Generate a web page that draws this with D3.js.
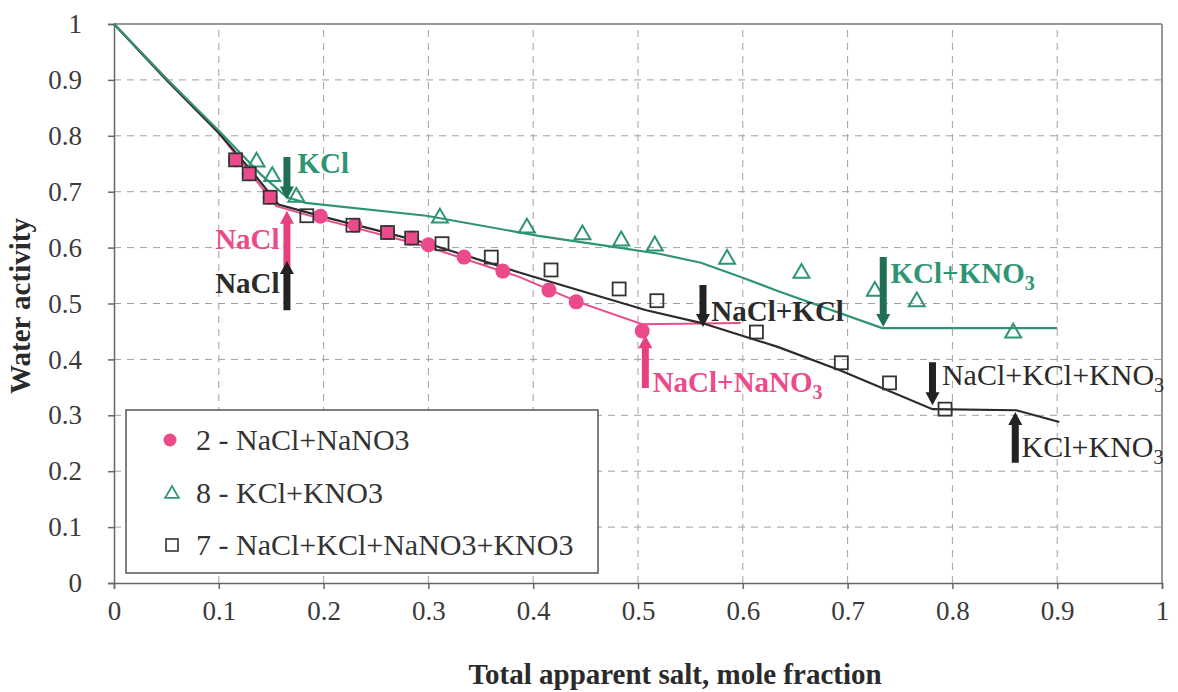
<!DOCTYPE html>
<html>
<head>
<meta charset="utf-8">
<script src="https://d3js.org/d3.v7.min.js"></script>
<style>
  body { margin: 0; background: #fff; }
  svg { display: block; }
</style>
</head>
<body>
<script>
// data
var naclNano3Pts = [[0.116,0.757],[0.129,0.732],[0.149,0.690],[0.197,0.656],[0.230,0.640],[0.261,0.627],[0.284,0.617],[0.300,0.605],[0.334,0.583],[0.371,0.558],[0.415,0.524],[0.441,0.503],[0.504,0.451]];
var kclKno3Pts = [[0.136,0.755],[0.151,0.729],[0.174,0.692],[0.311,0.655],[0.394,0.637],[0.447,0.625],[0.484,0.614],[0.516,0.605],[0.585,0.581],[0.656,0.556],[0.726,0.524],[0.766,0.505],[0.858,0.449]];
var mixPts = [[0.116,0.757],[0.129,0.732],[0.149,0.690],[0.184,0.657],[0.228,0.640],[0.261,0.627],[0.284,0.617],[0.313,0.607],[0.360,0.583],[0.417,0.560],[0.482,0.526],[0.518,0.505],[0.613,0.449],[0.694,0.394],[0.740,0.358],[0.793,0.311]];

var naclNano3Model = [[0,1],[0.1,0.805],[0.155,0.674],[0.2,0.65],[0.3,0.601],[0.386,0.548],[0.444,0.502],[0.504,0.463],[0.598,0.465]];
var kclKno3Model = [[0,1],[0.05,0.902],[0.1,0.809],[0.14,0.731],[0.165,0.69],[0.183,0.68],[0.298,0.657],[0.405,0.621],[0.47,0.603],[0.52,0.589],[0.56,0.573],[0.6,0.546],[0.634,0.522],[0.733,0.456],[0.9,0.456]];
var mixModel = [[0,1],[0.05,0.9],[0.1,0.805],[0.13,0.74],[0.157,0.677],[0.2,0.655],[0.253,0.63],[0.3,0.607],[0.386,0.556],[0.45,0.52],[0.508,0.488],[0.561,0.465],[0.634,0.422],[0.692,0.381],[0.781,0.311],[0.861,0.309],[0.902,0.288]];

var xTicks = [0,0.1,0.2,0.3,0.4,0.5,0.6,0.7,0.8,0.9,1];
var yTicks = [0,0.1,0.2,0.3,0.4,0.5,0.6,0.7,0.8,0.9,1];

var legendLabels = ["2 - NaCl+NaNO3","8 - KCl+KNO3","7 - NaCl+KCl+NaNO3+KNO3"];

// arrows: x, from y, to y, colour key
var arrows = [
  {x:0.165, y0:0.762, y1:0.686, c:"green"},
  {x:0.165, y0:0.556, y1:0.666, c:"pink"},
  {x:0.165, y0:0.488, y1:0.576, c:"black"},
  {x:0.562, y0:0.533, y1:0.458, c:"black"},
  {x:0.507, y0:0.349, y1:0.443, c:"pink"},
  {x:0.734, y0:0.583, y1:0.458, c:"green"},
  {x:0.781, y0:0.395, y1:0.318, c:"black"},
  {x:0.860, y0:0.215, y1:0.306, c:"black"}
];
var labels = [
  {t:"KCl", sub:"", x:0.175, y:0.733, c:"green", anchor:"start", w:"bold"},
  {t:"NaCl", sub:"", x:0.158, y:0.598, c:"pink", anchor:"end", w:"bold"},
  {t:"NaCl", sub:"", x:0.158, y:0.518, c:"black", anchor:"end", w:"bold"},
  {t:"NaCl+KCl", sub:"", x:0.570, y:0.468, c:"black", anchor:"start", w:"bold"},
  {t:"NaCl+NaNO", sub:"3", x:0.514, y:0.342, c:"pink", anchor:"start", w:"bold"},
  {t:"KCl+KNO", sub:"3", x:0.741, y:0.537, c:"green", anchor:"start", w:"bold"},
  {t:"NaCl+KCl+KNO", sub:"3", x:0.790, y:0.354, c:"black", anchor:"start", w:"normal"},
  {t:"KCl+KNO", sub:"3", x:0.866, y:0.225, c:"black", anchor:"start", w:"normal"}
];

var colors = {pink:"#ec4b8b", green:"#2f9474", black:"#2b2b2b"};
var arrowColors = {pink:"#e8407f", green:"#1f6f55", black:"#222"};
var serif = "'Liberation Serif'";

var W = 1178, H = 692;
var svg = d3.select("body").append("svg").attr("width", W).attr("height", H);

var x = d3.scaleLinear().domain([0,1]).range([114,1162]);
var y = d3.scaleLinear().domain([0,1]).range([583,24]);

//GRID
svg.append("g").selectAll("line.vg").data(xTicks.slice(1,10)).enter().append("line")
  .attr("x1", d => x(d)).attr("x2", d => x(d)).attr("y1", y(0)).attr("y2", y(1))
  .attr("stroke","#a0a0a0").attr("stroke-width",1).attr("stroke-dasharray","7,6");
svg.append("g").selectAll("line.hg").data(yTicks.slice(1,10)).enter().append("line")
  .attr("x1", x(0)).attr("x2", x(1)).attr("y1", d => y(d)).attr("y2", d => y(d))
  .attr("stroke","#a0a0a0").attr("stroke-width",1).attr("stroke-dasharray","7,6");

// frame top/right
svg.append("line").attr("x1",x(0)).attr("x2",x(1)).attr("y1",y(1)).attr("y2",y(1)).attr("stroke","#777").attr("stroke-width",1.5);
svg.append("line").attr("x1",x(1)).attr("x2",x(1)).attr("y1",y(0)).attr("y2",y(1)).attr("stroke","#777").attr("stroke-width",1.5);

//AXES
var xAxis = svg.append("g").attr("transform","translate(0,"+y(0)+")")
  .call(d3.axisBottom(x).tickValues(xTicks).tickFormat(d3.format("")).tickSize(6).tickPadding(12));
var yAxis = svg.append("g").attr("transform","translate("+x(0)+",0)")
  .call(d3.axisLeft(y).tickValues(yTicks).tickFormat(d3.format("")).tickSize(6).tickPadding(26));
[xAxis, yAxis].forEach(function(a){
  a.select(".domain").attr("stroke","#666").attr("stroke-width",1.5);
  a.selectAll(".tick line").attr("stroke","#666").attr("stroke-width",1.5);
  a.selectAll(".tick text").style("font-family", serif).style("font-size","27px").attr("fill","#3a3a3a");
});

svg.append("text").text("Total apparent salt, mole fraction")
  .attr("x", 675).attr("y", 684).attr("text-anchor","middle")
  .style("font-family", serif).style("font-size","29px").style("font-weight","bold").attr("fill","#2a2a2a");
svg.append("text").text("Water activity")
  .attr("transform","translate(30,306) rotate(-90)").attr("text-anchor","middle")
  .style("font-family", serif).style("font-size","29px").style("font-weight","bold").attr("fill","#2a2a2a");

//MODEL LINES
var line = d3.line().x(d => x(d[0])).y(d => y(d[1]));
svg.append("path").attr("d", line(naclNano3Model)).attr("fill","none").attr("stroke",colors.pink).attr("stroke-width",2);
svg.append("path").attr("d", line(mixModel)).attr("fill","none").attr("stroke",colors.black).attr("stroke-width",2.2);
svg.append("path").attr("d", line(kclKno3Model)).attr("fill","none").attr("stroke",colors.green).attr("stroke-width",2.2);

//MARKERS
var triPath = d3.symbol().type(d3.symbolTriangle).size(110);
svg.append("g").selectAll("circle").data(naclNano3Pts).enter().append("circle")
  .attr("cx", d => x(d[0])).attr("cy", d => y(d[1])).attr("r", 7.5).attr("fill", colors.pink);
svg.append("g").selectAll("path").data(kclKno3Pts).enter().append("path")
  .attr("d", triPath).attr("transform", d => "translate("+x(d[0])+","+(y(d[1])+1)+")")
  .attr("fill","none").attr("stroke", colors.green).attr("stroke-width",2);
svg.append("g").selectAll("rect").data(mixPts).enter().append("rect")
  .attr("x", d => x(d[0]) - 6.5).attr("y", d => y(d[1]) - 6.5).attr("width",13).attr("height",13)
  .attr("fill","none").attr("stroke","#333").attr("stroke-width",1.8);

//ARROWS
function arrowPath(a){
  var px = x(a.x), p0 = y(a.y0), p1 = y(a.y1);
  var dir = p1 > p0 ? 1 : -1;
  var head = 13, sw = 3.5, hw = 7;
  var base = p1 - dir*head;
  return "M"+(px-sw)+","+p0+" L"+(px+sw)+","+p0+" L"+(px+sw)+","+base+" L"+(px+hw)+","+base+
    " L"+px+","+p1+" L"+(px-hw)+","+base+" L"+(px-sw)+","+base+" Z";
}
svg.append("g").selectAll("path").data(arrows).enter().append("path")
  .attr("d", arrowPath).attr("fill", d => arrowColors[d.c]);

//LABELS
var lab = svg.append("g").selectAll("text").data(labels).enter().append("text")
  .attr("x", d => x(d.x)).attr("y", d => y(d.y))
  .attr("text-anchor", d => d.anchor)
  .style("font-family", serif)
  .style("font-size", d => d.w == "bold" ? "29px" : "30px")
  .style("font-weight", d => d.w)
  .attr("fill", d => colors[d.c]);
lab.append("tspan").text(d => d.t);
lab.append("tspan").text(d => d.sub).attr("dy", 7).style("font-size","20px");

//LEGEND
svg.append("rect").attr("x",126).attr("y",410).attr("width",472).attr("height",163)
  .attr("fill","#fff").attr("stroke","#555").attr("stroke-width",1.5);
var ly = [440, 493, 545];
svg.append("circle").attr("cx",170).attr("cy",ly[0]).attr("r",6.5).attr("fill",colors.pink);
svg.append("path").attr("d", d3.symbol().type(d3.symbolTriangle).size(80))
  .attr("transform","translate(172,"+(ly[1]+1)+")").attr("fill","none").attr("stroke",colors.green).attr("stroke-width",1.8);
svg.append("rect").attr("x",166).attr("y",ly[2]-6).attr("width",12).attr("height",12)
  .attr("fill","none").attr("stroke","#333").attr("stroke-width",1.6);
svg.append("g").selectAll("text").data(legendLabels).enter().append("text")
  .text(d => d).attr("x",196).attr("y",(d,i) => ly[i]+10)
  .style("font-family", serif).style("font-size","30px").attr("fill","#333");
</script>
</body>
</html>
